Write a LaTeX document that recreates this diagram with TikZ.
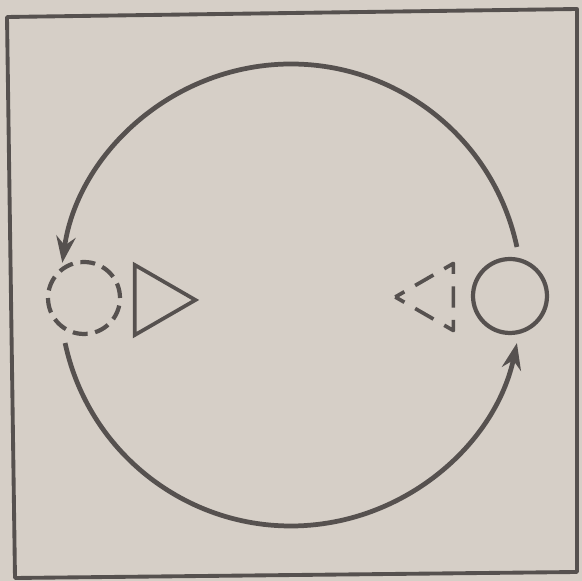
\documentclass[tikz,border=0pt]{standalone}
\usepackage{tikz}
\usetikzlibrary{arrows.meta,shapes.geometric}
\definecolor{paper}{RGB}{214,207,199}
\definecolor{ink}{RGB}{86,81,79}

\begin{document}
\begin{tikzpicture}[x=0.02cm,y=0.02cm]
	\tikzstyle{outline}=[draw=ink,line width=2.4pt,inner sep=0pt]
	\tikzstyle{ghost}=[outline,dash pattern=on 8.5pt off 4.37pt]
	\tikzstyle{ghosttri}=[draw=ink,line width=2.1pt,inner sep=0pt,line join=round,dash pattern=on 12pt off 7.1pt,dash phase=6pt]
	\tikzstyle{flow}=[ink,line width=2.7pt,-{Stealth[length=15pt,width=11pt,inset=5pt]}]

  % paper and frame
  \fill[paper] (0,0) rectangle (582,581);
  \draw[ink,line width=2.2pt,line join=round] (7,564) -- (577,572) -- (577,9) -- (15,3) -- cycle;

  \path
    node[ghost,circle,minimum size=1.44cm] (lcirc) at (84,283) {}
    node[outline,line width=2.1pt,regular polygon,regular polygon sides=3,
      shape border rotate=-90,minimum size=1.62cm] (ltri) at (155,281) {}
    node[ghosttri,regular polygon,regular polygon sides=3,
      shape border rotate=90,minimum size=1.55cm] (rtri) at (434,284) {}
    node[outline,circle,minimum size=1.48cm] (rcirc) at (510,285) {}
    ;

  % the big round trip
  \coordinate (o) at (291,286);
  \draw[flow] ([shift={(12:4.62cm)}]o) arc[start angle=12,end angle=172,radius=4.62cm];
  \draw[flow] ([shift={(192:4.62cm)}]o) arc[start angle=192,end angle=348,radius=4.62cm];

\end{tikzpicture}
\end{document}
